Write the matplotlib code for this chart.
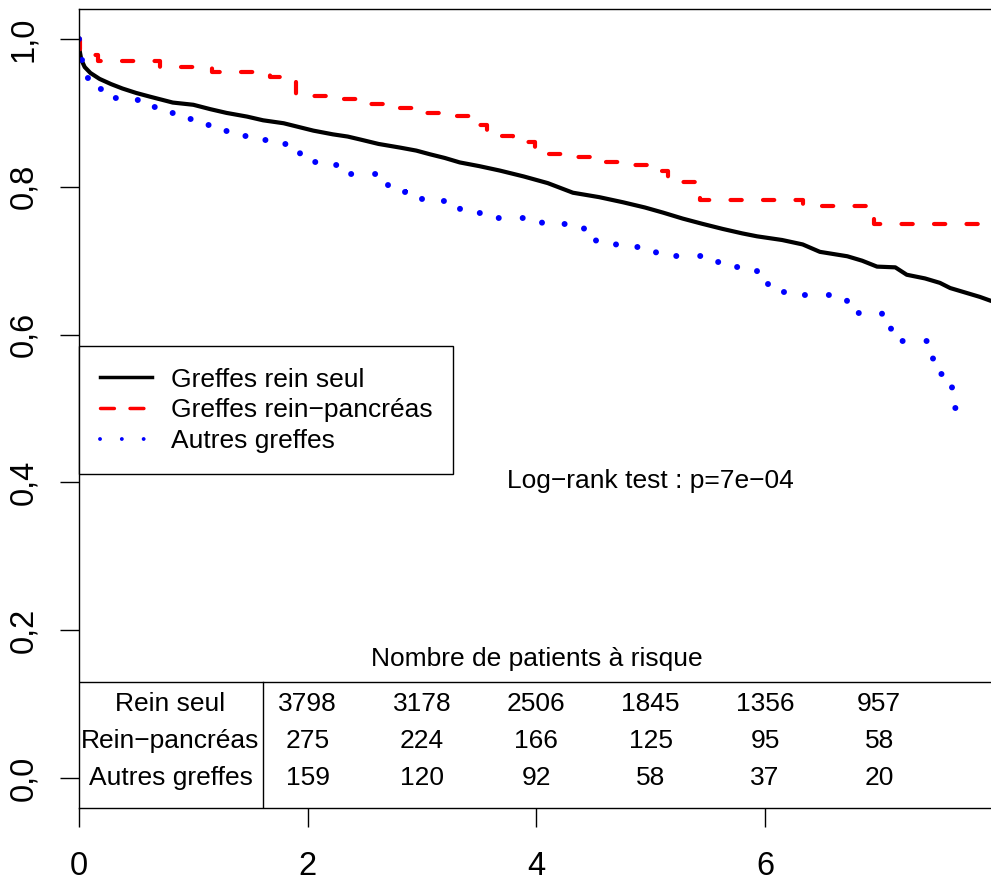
import numpy as np
import matplotlib
matplotlib.use("Agg")
import matplotlib.pyplot as plt
from matplotlib.lines import Line2D

plt.rcParams['font.family'] = ['Liberation Sans', 'DejaVu Sans']

# Kaplan-Meier curves (time in years, survival)
# rein seul has thousands of tiny steps -> drawn as a plain line through read points
rein_seul_t = [0, 0.005, 0.02, 0.05, 0.1, 0.18, 0.28, 0.38, 0.5, 0.62, 0.72, 0.82, 1.0, 1.15,
               1.29, 1.47, 1.61, 1.79, 1.92, 2.05, 2.22, 2.35, 2.46, 2.62, 2.81, 2.95, 3.07,
               3.2, 3.33, 3.5, 3.68, 3.89, 4.1, 4.32, 4.55, 4.76, 4.95, 5.11, 5.28, 5.45,
               5.63, 5.8, 5.93, 6.15, 6.33, 6.48, 6.72, 6.85, 6.98, 7.14, 7.24, 7.4, 7.53,
               7.62, 7.75, 7.88, 7.97, 8.1]
rein_seul_s = [1.0, 0.985, 0.972, 0.962, 0.954, 0.946, 0.939, 0.933, 0.927, 0.922, 0.918,
               0.914, 0.911, 0.905, 0.900, 0.895, 0.890, 0.886, 0.881, 0.876, 0.871, 0.868,
               0.864, 0.858, 0.853, 0.849, 0.844, 0.839, 0.833, 0.828, 0.822, 0.814, 0.805,
               0.792, 0.786, 0.779, 0.772, 0.765, 0.757, 0.750, 0.743, 0.737, 0.733, 0.728,
               0.722, 0.712, 0.706, 0.700, 0.692, 0.691, 0.681, 0.676, 0.670, 0.663, 0.657,
               0.651, 0.646, 0.640]

rein_panc_t = [0, 0.01, 0.1, 0.17, 0.71, 1.16, 1.67, 1.85, 1.90, 2.18, 2.44, 2.81, 2.92, 3.16,
               3.46, 3.57, 3.80, 3.99, 4.22, 4.47, 4.85, 5.05, 5.15, 5.43, 6.33, 6.95, 8.3]
rein_panc_s = [1.0, 0.985, 0.978, 0.970, 0.962, 0.956, 0.948, 0.942, 0.923, 0.919, 0.912,
               0.907, 0.900, 0.896, 0.884, 0.869, 0.860, 0.845, 0.840, 0.834, 0.829, 0.822,
               0.806, 0.782, 0.774, 0.750, 0.750]

autres_t = [0, 0.01, 0.05, 0.15, 0.28, 0.45, 0.62, 0.78, 0.93, 1.10, 1.25, 1.42, 1.60, 1.78,
            1.93, 2.05, 2.22, 2.38, 2.70, 2.85, 3.00, 3.33, 3.50, 3.65, 4.05, 4.42, 4.52,
            4.70, 5.05, 5.45, 5.60, 5.93, 6.03, 6.20, 6.72, 7.02, 7.10, 7.47, 7.60, 7.64, 7.83]
autres_s = [1.0, 0.971, 0.947, 0.932, 0.920, 0.917, 0.908, 0.900, 0.892, 0.883, 0.875, 0.869,
            0.864, 0.858, 0.845, 0.834, 0.829, 0.817, 0.798, 0.793, 0.781, 0.766, 0.764,
            0.758, 0.749, 0.737, 0.722, 0.719, 0.707, 0.698, 0.691, 0.675, 0.658, 0.654,
            0.629, 0.614, 0.592, 0.547, 0.540, 0.500, 0.500]

legend_labels = ["Greffes rein seul", "Greffes rein\u2212pancréas", "Autres greffes"]

# number at risk table
risk_times = [2, 3, 4, 5, 6, 7]
risk_rows = ["Rein seul", "Rein\u2212pancréas", "Autres greffes"]
risk_rein_seul = [3798, 3178, 2506, 1845, 1356, 957]
risk_rein_panc = [275, 224, 166, 125, 95, 58]
risk_autres = [159, 120, 92, 58, 37, 20]

xticks = [0, 2, 4, 6]
yticks = [0.0, 0.2, 0.4, 0.6, 0.8, 1.0]
ytick_labels = ["0,0", "0,2", "0,4", "0,6", "0,8", "1,0"]

fig = plt.figure(figsize=(9.91, 8.8), dpi=100)
ax = fig.add_axes([79 / 991, 72 / 880, 912 / 991, 799 / 880])

ax.plot(rein_seul_t, rein_seul_s, color='black', lw=3.0)
ax.step(rein_panc_t, rein_panc_s, where='post', color='red', lw=3.0,
        linestyle=(0, (2.7, 5.1)), dash_capstyle='round')
ax.step(autres_t, autres_s, where='post', color='blue', lw=4.3,
        linestyle=(0, (0.01, 4.0)), dash_capstyle='round')

ax.set_xlim(0, 7.977)
ax.set_ylim(-0.0406, 1.0406)

ax.spines['right'].set_visible(False)
for s in ['left', 'top', 'bottom']:
    ax.spines[s].set_linewidth(1.0)

ax.set_xticks(xticks)
ax.set_xticklabels([str(t) for t in xticks], fontsize=23.5)
ax.set_yticks(yticks)
ax.set_yticklabels(ytick_labels, fontsize=23.5, rotation=90, va='center')
ax.tick_params(axis='x', length=13.7, width=1.0, pad=17)
ax.tick_params(axis='y', length=13.7, width=1.0, pad=15)

# at-risk table
ax.axhline(0.13, color='black', lw=1.0)
ax.plot([1.607, 1.607], [-0.0406, 0.13], color='black', lw=1.0)
ax.text(4, 0.161, "Nombre de patients à risque", fontsize=19, ha='center', va='center')
row_y = [0.1, 0.05, 0.0]
for lab, yy, vals in zip(risk_rows, row_y, [risk_rein_seul, risk_rein_panc, risk_autres]):
    ax.text(0.8, yy, lab, fontsize=19, ha='center', va='center')
    for t, v in zip(risk_times, vals):
        ax.text(t, yy, str(v), fontsize=19, ha='center', va='center')

ax.text(5.0, 0.402, "Log\u2212rank test : p=7e\u221204", fontsize=19, ha='center', va='center')

handles = [
    Line2D([], [], color='black', lw=2.5),
    Line2D([], [], color='red', lw=2.5, linestyle=(0, (4.0, 4.5)), dash_capstyle='round'),
    Line2D([], [], color='blue', lw=2.8, linestyle=(0, (0.01, 5.6)), dash_capstyle='round'),
]
leg = ax.legend(handles, legend_labels, loc='upper left', bbox_to_anchor=(0, 0.584),
                bbox_transform=ax.transData, fontsize=19, frameon=True, fancybox=False,
                edgecolor='black', framealpha=1, borderpad=0.8, borderaxespad=0,
                handlelength=1.95, handletextpad=0.72, labelspacing=0.26)
leg.get_frame().set_linewidth(1.0)

fig.savefig("out.png", dpi=100)
